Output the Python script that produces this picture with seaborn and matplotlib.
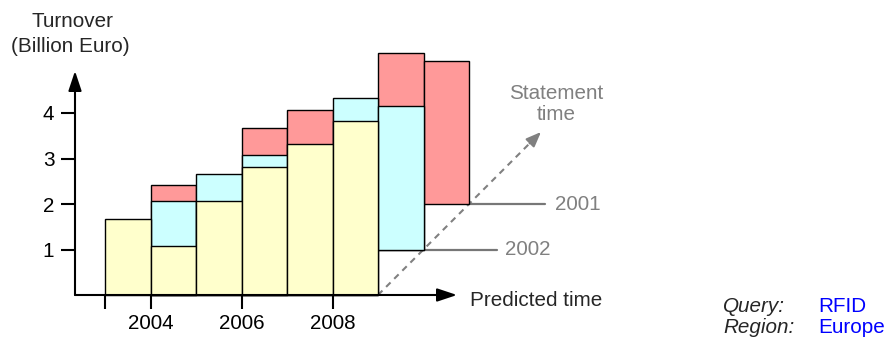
import numpy as np
import pandas as pd
import matplotlib
matplotlib.use("Agg")
import matplotlib.pyplot as plt
import seaborn as sns

sns.set_style("white")
plt.rcParams['font.family'] = ['Liberation Sans', 'DejaVu Sans']

# ---- data (predicted-year slot start, top value, base value) ----
yellow_years = [2003, 2004, 2005, 2006, 2007, 2008]
yellow_vals = [1.67, 1.08, 2.07, 2.82, 3.32, 3.83]
yellow_base = [0, 0, 0, 0, 0, 0]

cyan_years = [2004, 2005, 2006, 2008, 2009]
cyan_vals = [2.07, 2.66, 3.08, 4.32, 4.16]
cyan_base = [0, 0, 0, 0, 1]

red_years = [2004, 2006, 2007, 2009, 2010]
red_vals = [2.42, 3.66, 4.07, 5.31, 5.15]
red_base = [0, 0, 0, 1, 2]

statement_years = ["2002", "2001"]
statement_levels = [1, 2]

xtick_years = [2003, 2004, 2006, 2008]
xtick_labels = ["", "2004", "2006", "2008"]
ytick_vals = [1, 2, 3, 4]

colors = {"yellow": "#FFFFCC", "cyan": "#CCFFFF", "red": "#FF9999"}

# ---- layout helpers (pixel geometry of the reference) ----
W, H = 888, 338
PX = 45.5                      # pixels per unit (year or billion)
x0 = 2003 - 105 / PX
x1 = x0 + W / PX
y1 = 295 / PX
y0 = y1 - H / PX
def X(px): return x0 + px / PX
def Y(py): return y1 - py / PX

fig = plt.figure(figsize=(W / 100, H / 100), dpi=100)
ax = fig.add_axes([0, 0, 1, 1])

def layer(years, vals, base, color):
    years = np.array(years, float)
    vals = np.array(vals, float)
    base = np.array(base, float)
    df = pd.DataFrame({"center": years + 0.5, "height": vals - base})
    sns.barplot(data=df, x="center", y="height", native_scale=True, width=1,
                bottom=base, color=color, saturation=1, edgecolor="black",
                linewidth=1.0, errorbar=None, ax=ax, zorder=2)

layer(red_years, red_vals, red_base, colors["red"])
layer(cyan_years, cyan_vals, cyan_base, colors["cyan"])
layer(yellow_years, yellow_vals, yellow_base, colors["yellow"])

ax.set_xlim(x0, x1)
ax.set_ylim(y0, y1)
ax.set_xlabel("")
ax.set_ylabel("")

# axes spines positioned at the data origin, drawn as arrows
xa = X(75)
ax.spines["left"].set_position(("data", xa))
ax.spines["bottom"].set_position(("data", 0))
for s in ax.spines.values():
    s.set_visible(False)

fs = 14.9
ax.set_xticks(xtick_years)
ax.set_xticklabels(xtick_labels)
ax.set_yticks(ytick_vals)
ax.set_yticklabels([str(v) for v in ytick_vals])
ax.tick_params(axis="both", which="major", bottom=True, left=True, length=10,
               width=1.5, direction="out", labelsize=fs, colors="black")
ax.tick_params(axis="x", pad=4)
ax.tick_params(axis="y", pad=5)
ax.grid(False)

astyle = "-|>,head_length=0.6,head_width=0.2"
ax.annotate("", xy=(xa, Y(71)), xytext=(xa, 0),
            arrowprops=dict(arrowstyle=astyle, color="black", lw=1.5,
                            mutation_scale=20, shrinkA=0, shrinkB=0))
ax.annotate("", xy=(X(457), 0), xytext=(xa, 0),
            arrowprops=dict(arrowstyle=astyle, color="black", lw=1.5,
                            mutation_scale=20, shrinkA=0, shrinkB=0))

# statement-time diagonal (dashed, gray)
gray = "#808080"
d0 = (2009, 0)
d1 = (X(541), Y(132))
ax.plot([d0[0], d1[0] - 0.15], [d0[1], d1[1] - 0.15], color=gray, lw=1.5,
        ls=(0, (3, 2.5)), zorder=1)
ax.annotate("", xy=d1, xytext=(d1[0] - 0.25, d1[1] - 0.25),
            arrowprops=dict(arrowstyle="-|>,head_length=0.5,head_width=0.2",
                            color=gray, lw=1.5, mutation_scale=18,
                            shrinkA=0, shrinkB=0))

# statement year reference lines
line_ends = [X(497), X(545)]
label_x = [X(505), X(555)]
for yr, lev, le, lx in zip(statement_years, statement_levels, line_ends, label_x):
    ax.plot([2009 + lev, le], [lev, lev], color="#777777", lw=1.6, zorder=1)
    ax.text(lx, lev, yr, color=gray, fontsize=fs, ha="left", va="center")

# texts
ax.text(X(72), Y(27), "Turnover", fontsize=fs, ha="center", va="baseline")
ax.text(X(70), Y(52), "(Billion Euro)", fontsize=fs, ha="center", va="baseline")
ax.text(X(556), Y(99), "Statement", fontsize=fs, ha="center", va="baseline", color=gray)
ax.text(X(556), Y(120), "time", fontsize=fs, ha="center", va="baseline", color=gray)
ax.text(X(470), Y(306), "Predicted time", fontsize=fs, ha="left", va="baseline")
ax.text(X(723), Y(312), "Query:", fontsize=fs, ha="left", va="baseline", style="italic")
ax.text(X(723), Y(333), "Region:", fontsize=fs, ha="left", va="baseline", style="italic")
ax.text(X(818), Y(312), "RFID", fontsize=fs, ha="left", va="baseline", color="#0000FF")
ax.text(X(818), Y(333), "Europe", fontsize=fs, ha="left", va="baseline", color="#0000FF")

fig.savefig("out.png", dpi=100)
